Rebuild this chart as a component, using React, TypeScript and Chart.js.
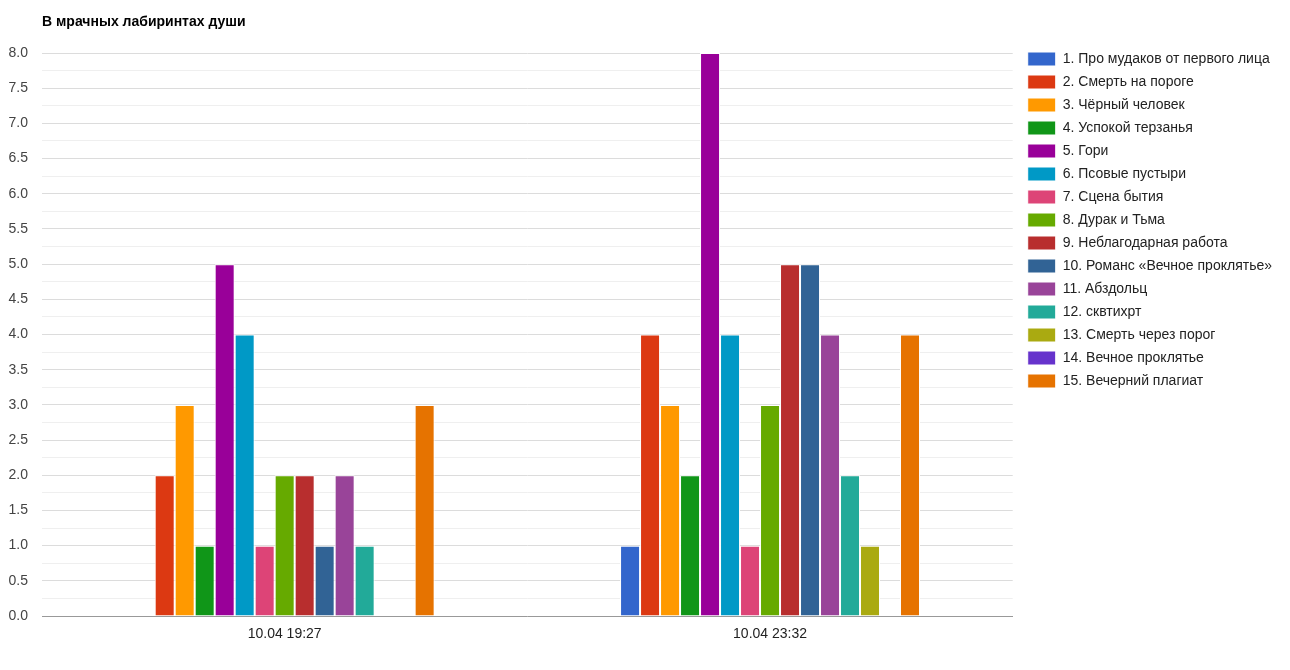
import React, { useEffect, useRef } from "react";
import { Chart, registerables } from "chart.js";

Chart.register(...registerables);

const title = "В мрачных лабиринтах души";
const categories = ["10.04 19:27", "10.04 23:32"];
const seriesNames = [
  "1. Про мудаков от первого лица",
  "2. Смерть на пороге",
  "3. Чёрный человек",
  "4. Успокой терзанья",
  "5. Гори",
  "6. Псовые пустыри",
  "7. Сцена бытия",
  "8. Дурак и Тьма",
  "9. Неблагодарная работа",
  "10. Романс «Вечное проклятье»",
  "11. Абздольц",
  "12. сквтихрт",
  "13. Смерть через порог",
  "14. Вечное проклятье",
  "15. Вечерний плагиат",
];
const firstValues = [0, 2, 3, 1, 5, 4, 1, 2, 2, 1, 2, 1, 0, 0, 3];
const secondValues = [1, 4, 3, 2, 8, 4, 1, 3, 5, 5, 4, 2, 1, 0, 4];
const colors = [
  "#3366cc", "#dc3912", "#ff9900", "#109618", "#990099",
  "#0099c6", "#dd4477", "#66aa00", "#b82e2e", "#316395",
  "#994499", "#22aa99", "#aaaa11", "#6633cc", "#e67300",
];

const FONT = 'Arial, "Liberation Sans", sans-serif';

const isMajor = (v: number) => Math.abs(v * 2 - Math.round(v * 2)) < 1e-6;

export default function App() {
  const ref = useRef<HTMLCanvasElement | null>(null);
  useEffect(() => {
    if (!ref.current) return;
    const titlePlugin = {
      id: "leftTitle",
      afterLayout(chart: any) {
        const lg = chart.legend;
        if (lg) {
          lg.left += 6;
          lg.right += 6;
          lg.top -= 10;
          lg.bottom -= 10;
        }
      },
      afterDraw(chart: any) {
        const { ctx, chartArea } = chart;
        ctx.save();
        ctx.font = `bold 14px ${FONT}`;
        ctx.fillStyle = "#000";
        ctx.textBaseline = "middle";
        ctx.textAlign = "left";
        ctx.fillText(title, chartArea.left, 22);
        ctx.restore();
      },
    };
    const chart = new Chart(ref.current, {
      type: "bar",
      data: {
        labels: categories,
        datasets: seriesNames.map((name, i) => ({
          label: name,
          data: [firstValues[i], secondValues[i]],
          backgroundColor: colors[i],
          borderColor: "#ffffff",
          borderWidth: 1,
          borderSkipped: "bottom",
          categoryPercentage: 0.618,
          barPercentage: 1,
        })),
      },
      options: {
        animation: false,
        responsive: true,
        maintainAspectRatio: false,
        layout: { padding: { top: 53, left: 0, right: 14, bottom: 0 } },
        plugins: {
          title: { display: false },
          tooltip: { enabled: false },
          legend: {
            position: "right",
            align: "start",
            labels: {
              boxWidth: 28,
              boxHeight: 14,
              padding: 9,
              color: "#222",
              font: { family: FONT, size: 14 },
            },
          },
        },
        scales: {
          x: {
            grid: { display: false },
            border: { display: true, color: "#999" },
            ticks: { color: "#222", font: { family: FONT, size: 14 }, padding: 2 },
            afterFit: (s: any) => {
              s.height = 54;
            },
          },
          y: {
            min: 0,
            max: 8,
            border: { display: false },
            grid: {
              color: (c: any) => (isMajor(c.tick?.value ?? 0) ? "#dcdcdc" : "#efefef"),
              drawTicks: false,
            },
            afterFit: (s: any) => {
              s.width = 42;
            },
            ticks: {
              stepSize: 0.25,
              autoSkip: false,
              padding: 14,
              color: "#444",
              font: { family: FONT, size: 14 },
              callback: (v: any) => {
                const n = Number(v);
                return isMajor(n) ? n.toFixed(1) : "";
              },
            },
          },
        },
      },
      plugins: [titlePlugin],
    });
    return () => chart.destroy();
  }, []);
  return (
    <div style={{ position: "fixed", left: 0, top: 0, width: 1290, height: 670, background: "#fff" }}>
      <canvas ref={ref} />
    </div>
  );
}
